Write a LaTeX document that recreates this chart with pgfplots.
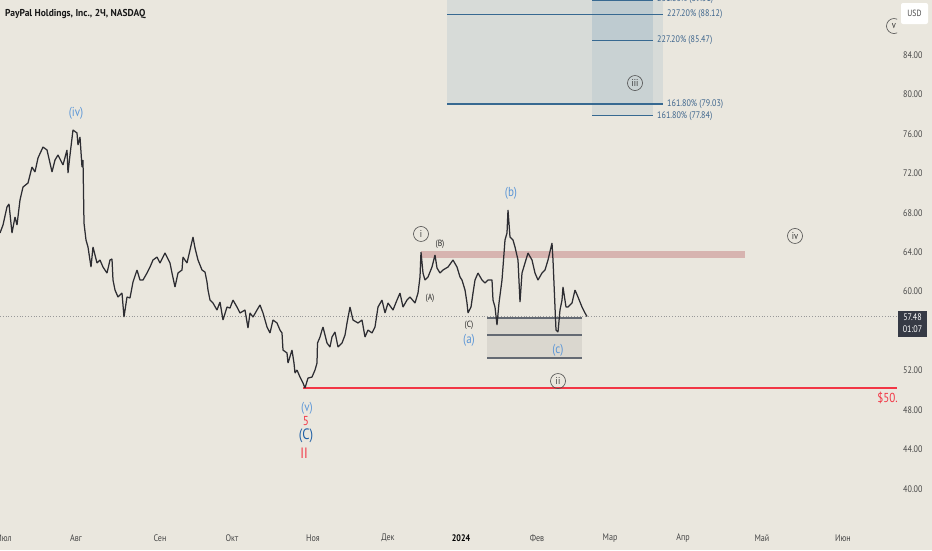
\documentclass[border=0pt]{standalone}
\usepackage{fontspec}
\setmainfont{PT Sans}
\newfontfamily\nar[FakeStretch=0.85]{PT Sans}
\newfontfamily\ttl[FakeStretch=0.95]{PT Sans}
\usepackage{pgfplots}
\pgfplotsset{compat=1.18}

\definecolor{bg}{RGB}{234,231,222}
\definecolor{lblblue}{RGB}{91,150,215}
\definecolor{dkblue}{RGB}{30,95,165}
\definecolor{lvlred}{RGB}{242,54,69}
\definecolor{fibline}{RGB}{55,105,145}
\definecolor{fibtext}{RGB}{60,100,140}
\definecolor{fibfill}{RGB}{160,185,200}
\definecolor{band}{RGB}{215,180,176}
\definecolor{boxline}{RGB}{100,106,115}
\definecolor{pricec}{RGB}{45,45,50}
\definecolor{tickc}{RGB}{70,70,70}
\definecolor{tagc}{RGB}{54,58,69}

\tikzset{
  circ/.style={circle, draw=black!70, line width=0.6pt, inner sep=0pt, minimum size=15pt, font=\nar\fontsize{10}{10}\selectfont, text=black!80},
  wl/.style={font=\nar\fontsize{13}{13}\selectfont, text=lblblue, inner sep=0pt},
  sl/.style={font=\nar\fontsize{9}{9}\selectfont, text=black!85, inner sep=0pt},
  fl/.style={font=\nar\fontsize{9.5}{10}\selectfont, text=fibtext, inner sep=0pt, anchor=west},
}

\begin{document}
\begin{tikzpicture}[x=1pt,y=1pt]
\useasboundingbox (0,0) rectangle (932,-550);
\fill[bg] (0,0) rectangle (932,-550);
\begin{axis}[
  at={(0,0)}, anchor=north west,
  scale only axis, width=897pt, height=522pt,
  xmin=0, xmax=897, ymin=36.64, ymax=89.58,
  axis line style={draw=none}, major tick length=0pt,
  yticklabel pos=right,
  ytick={40,44,48,52,60,64,68,72,76,80,84},
  yticklabels={40.00,44.00,48.00,52.00,60.00,64.00,68.00,72.00,76.00,80.00,84.00},
  yticklabel style={font=\nar\fontsize{9.5}{10}\selectfont, text=tickc, anchor=west, inner sep=0pt, xshift=6pt},
  xtick={4,76,160,232,313,388,461,537,610,683,762,843},
  xticklabels={Июл,Авг,Сен,Окт,Ноя,Дек,{\color{black}\bfseries 2024},Фев,Мар,Апр,Май,Июн},
  xticklabel style={font=\nar\fontsize{9.5}{10}\selectfont, text=tickc, anchor=center, inner sep=0pt, yshift=-16pt},
  clip=true,
]
% fib projection boxes
\fill[fibfill, opacity=0.25] (447,79.03) rectangle (663,95);
\fill[fibfill, opacity=0.25] (592,77.84) rectangle (653,95);
\fill[fibfill, opacity=0.25] (592,85.47) rectangle (653,95);
\draw[fibline, line width=1.1pt] (447,88.12) -- (663,88.12);
\draw[fibline, line width=1.1pt] (447,79.03) -- (663,79.03);
\draw[fibline, line width=1.1pt] (592,89.51) -- (653,89.51);
\draw[fibline, line width=1.1pt] (592,85.47) -- (653,85.47);
\draw[fibline, line width=1.1pt] (592,77.84) -- (653,77.84);
\node[fl] at (667,88.12) {227.20\% (88.12)};
\node[fl] at (667,79.03) {161.80\% (79.03)};
\node[fl] at (657,89.62) {261.80\% (89.51)};
\node[fl] at (657,85.47) {227.20\% (85.47)};
\node[fl] at (657,77.84) {161.80\% (77.84)};
% resistance band
\fill[band] (421,63.41) rectangle (745,64.12);
% target box
\fill[gray, opacity=0.15] (487,53.27) rectangle (582,57.33);
\draw[boxline, line width=1.3pt] (487,57.33) -- (582,57.33);
\draw[boxline, line width=1.3pt] (487,55.60) -- (582,55.60);
\draw[boxline, line width=1.3pt] (487,53.27) -- (582,53.27);
% current price line
\draw[black!40, dotted, line width=0.8pt] (0,57.48) -- (897,57.48);
% support level
\draw[lvlred, line width=1.6pt] (303,50.23) -- (897,50.23);
\node[font=\nar\fontsize{13}{13}\selectfont, text=lvlred, anchor=east, inner sep=0pt] at (898,49.2) {\$50.};

\addplot[pricec, line width=1.25pt, line join=bevel] coordinates {
(0,65.95) (3,66.76) (7,68.59) (9,68.89) (12,65.95) (15,67.57) (17,66.76) (20,69.30)
(23,70.61) (28,71.02) (32,72.64) (35,72.14) (38,73.56) (43,74.67) (47,74.37) (50,73.05)
(52,72.14) (55,73.35) (58,73.86) (63,72.85) (67,74.37) (68,72.03) (70,73.86) (73,76.40)
(77,76.09) (78,74.87) (80,75.69) (82,72.64) (83,73.35)
(84,66.96) (86,65.24) (88,64.53) (91,62.50) (93,64.53) (97,62.91) (100,63.21) (103,62.50)
(107,61.89) (110,63.21) (112,63.31) (113,61.18) (115,60.17) (118,59.46) (122,59.86) (124,57.43)
(127,59.46) (130,59.36) (133,60.98) (137,62.20) (140,61.18) (143,61.18) (147,61.89) (150,62.50)
(153,63.21) (157,63.51) (160,62.91) (165,63.92) (170,62.91) (172,61.89) (175,60.47) (178,61.89)
(182,62.20) (183,63.51) (187,62.91) (190,64.22) (193,65.54) (195,64.43) (198,63.21) (202,62.20)
(205,61.99) (207,60.98) (208,60.17) (210,59.15) (213,58.85) (217,58.14) (220,58.95) (223,57.13)
(227,58.44) (230,58.34) (233,59.15) (237,58.44) (240,57.84) (245,58.14) (248,56.31) (250,57.84)
(253,57.43) (257,58.14) (260,58.65) (263,57.84) (267,56.42) (270,55.81) (273,57.13) (277,56.82)
(280,56.11) (282,55.81) (283,54.08) (287,53.78) (288,52.76) (292,54.08) (294,52.76) (295,51.75)
(297,52.05) (300,51.34) (303,50.74) (305,50.23) (308,51.24) (312,51.34) (315,52.05) (317,52.76)
(317.5,54.79) (320,55.40) (322,56.11) (323,56.42) (327,54.79) (330,54.39) (332,55.40) (335,55.91)
(338,54.39) (342,54.79) (345,55.60) (347,56.82) (350,58.44) (353,57.13) (358,56.82) (362,57.13)
(365,55.40) (368,56.11) (372,55.81) (375,56.42) (378,58.44) (382,59.15) (385,57.84) (388,58.85)
(393,58.14) (397,59.15) (400,59.86) (403,58.44) (407,59.15) (410,59.46) (415,58.85) (418,59.86)
(420,61.49) (421,64.02) (423,61.89) (425,61.18) (428,61.49) (432,62.50) (435,63.72) (437,62.40)
(440,61.89) (443,62.20) (448,62.50) (453,63.21) (457,62.50) (460,61.49) (462,61.18) (465,60.17)
(467,58.85) (468,57.84) (471,58.44) (473,59.86) (475,61.18) (478,61.89) (482,61.18) (485,60.88)
(488,61.18) (492,61.18) (493,59.15) (495,58.44) (497,56.62) (499,58.85) (502,61.18) (503,62.50)
(505,65.24) (507,65.95) (508,68.28) (510,65.54) (513,65.24) (515,64.53) (518,63.21) (520,58.95)
(522,61.89) (525,62.91) (528,63.92) (532,63.21) (535,61.89) (538,61.18) (542,61.89) (545,62.20)
(548,63.21) (552,64.93) (553,63.21)
(555,58.44) (556,56.11) (558,55.91) (560,58.14) (562,59.15) (563,60.47) (566,58.44) (568,58.44)
(572,58.85) (575,60.17) (578,59.46) (582,58.44) (585,57.84) (587,57.48)
};

% wave labels
\node[wl] at (76,78.12) {(iv)};
\node[wl] at (307,48.20) {(v)};
\node[wl, text=lvlred] at (306,46.88) {5};
\node[wl, text=dkblue, font=\nar\fontsize{15}{15}\selectfont] at (306,45.36) {(C)};
\node[wl, text=lvlred, font=\nar\fontsize{15}{15}\selectfont] at (304,43.64) {II};
\node[wl] at (469,55.10) {(a)};
\node[wl] at (511,70.01) {(b)};
\node[wl] at (558,54.08) {(c)};
\node[sl] at (440,64.83) {(B)};
\node[sl] at (430,59.36) {(A)};
\node[sl] at (469,56.62) {(C)};
\node[circ] at (421,65.85) {i};
\node[circ] at (558,50.94) {ii};
\node[circ] at (635,81.16) {iii};
\node[circ] at (795,65.65) {iv};
\node[circ] at (894,86.94) {v};
\end{axis}
% title
\node[anchor=west, inner sep=0pt, font=\ttl\bfseries\fontsize{10}{10}\selectfont, text=black!90] at (5,-14) {PayPal Holdings, Inc., 2Ч, NASDAQ};
% currency box
\node[fill=white, rounded corners=2pt, minimum width=27pt, minimum height=21pt, inner sep=0pt, font=\nar\fontsize{9}{9}\selectfont, text=tickc] at (914.5,-13.5) {USD};
% last price tag
\fill[tagc] (898,-311) rectangle (927,-337);
\node[inner sep=0pt, font=\nar\fontsize{9.5}{10}\selectfont, text=white] at (912.5,-317.5) {57.48};
\node[inner sep=0pt, font=\nar\fontsize{9.5}{10}\selectfont, text=white] at (912.5,-329.5) {01:07};
\end{tikzpicture}
\end{document}
